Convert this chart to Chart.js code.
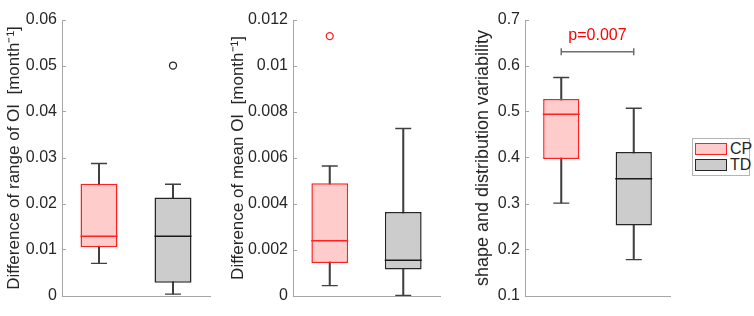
<!DOCTYPE html>
<html>
<head>
<meta charset="utf-8">
<script src="https://cdn.jsdelivr.net/npm/chart.js@4.4.1/dist/chart.umd.min.js"></script>
<style>
  body { margin: 0; background: #fff; width: 754px; height: 316px; overflow: hidden; position: relative; font-family: 'Liberation Sans', Arial, sans-serif; }
  canvas { position: absolute; top: 0; }
  .legend { position: absolute; left: 692px; top: 138px; width: 56px; height: 36px; border: 1px solid #b4b4b4; background: #fff; }
  .legend .item { position: absolute; left: 2px; height: 13px; width: 60px; }
  .legend .swatch { position: absolute; left: 0; top: 0; width: 30px; height: 10px; border-width: 1.5px; border-style: solid; }
  .legend .label { position: absolute; left: 35px; top: -3px; font-size: 16px; color: #262626; line-height: 17px; }
</style>
</head>
<body>
<canvas id="rangeChart" width="230" height="316" style="left:0px"></canvas>
<canvas id="meanChart" width="230" height="316" style="left:230px"></canvas>
<canvas id="varChart" width="230" height="316" style="left:460px"></canvas>
<div class="legend">
  <div class="item" style="top:4px"><div class="swatch" style="background:#ffcccc;border-color:#ff2020"></div><div class="label">CP</div></div>
  <div class="item" style="top:20px"><div class="swatch" style="background:#cccccc;border-color:#262626"></div><div class="label">TD</div></div>
</div>
<script>
const groups = ['CP', 'TD'];

// difference of range of OI
const rangeLow = [0.0071, 0.0004];
const rangeQ1 = [0.0106, 0.0029];
const rangeMedian = [0.0130, 0.0130];
const rangeQ3 = [0.0244, 0.0214];
const rangeHigh = [0.0288, 0.0243];
const rangeOutliers = [[], [0.0501]];
const rangeTicks = [0, 0.01, 0.02, 0.03, 0.04, 0.05, 0.06];
const rangeTickLabels = ['0', '0.01', '0.02', '0.03', '0.04', '0.05', '0.06'];

// difference of mean OI
const meanLow = [0.00045, 0.00002];
const meanQ1 = [0.00144, 0.00115];
const meanMedian = [0.0024, 0.00155];
const meanQ3 = [0.0049, 0.00365];
const meanHigh = [0.00565, 0.00728];
const meanOutliers = [[0.0113], []];
const meanTicks = [0, 0.002, 0.004, 0.006, 0.008, 0.01, 0.012];
const meanTickLabels = ['0', '0.002', '0.004', '0.006', '0.008', '0.01', '0.012'];

// shape and distribution variability
const varLow = [0.302, 0.179];
const varQ1 = [0.398, 0.253];
const varMedian = [0.495, 0.355];
const varQ3 = [0.528, 0.413];
const varHigh = [0.575, 0.508];
const varOutliers = [[], []];
const varTicks = [0.1, 0.2, 0.3, 0.4, 0.5, 0.6, 0.7];
const varTickLabels = ['0.1', '0.2', '0.3', '0.4', '0.5', '0.6', '0.7'];
const pBracketY = 0.631;
const pLabel = 'p=0.007';

const boxFill = ['#ffcccc', '#cccccc'];
const boxEdge = ['#ff2020', '#262626'];
const whiskerColor = '#404040';
const axisColor = '#a6a6a6';
const textColor = '#262626';

Chart.defaults.font.family = "'Liberation Sans', Arial, sans-serif";
Chart.defaults.color = textColor;

const pValuePlugin = {
    id: 'pValue',
    afterDatasetsDraw(chart, args, opts) {
        if (!opts.text) return;
        const ctx = chart.ctx;
        const xs = chart.scales.x, ys = chart.scales.y;
        const cx = (xs.getPixelForValue(0) + xs.getPixelForValue(1)) / 2;
        const cy = ys.getPixelForValue(opts.y);
        ctx.save();
        ctx.fillStyle = '#ff0000';
        ctx.font = "16px 'Liberation Sans', Arial, sans-serif";
        ctx.textAlign = 'center';
        ctx.textBaseline = 'alphabetic';
        ctx.fillText(opts.text, cx, cy - 12);
        ctx.restore();
    }
};

function makePanel(id, s) {
    const whiskers = groups.map((g, i) => [s.low[i], s.high[i]]);
    const boxes = groups.map((g, i) => [s.q1[i], s.q3[i]]);
    const caps = [];
    groups.forEach((g, i) => { caps.push({x: g, y: s.low[i]}); caps.push({x: g, y: s.high[i]}); });
    const medians = groups.map((g, i) => ({x: g, y: s.median[i]}));
    const outliers = [], outlierColors = [];
    groups.forEach((g, i) => s.outliers[i].forEach(v => { outliers.push({x: g, y: v}); outlierColors.push(boxEdge[i]); }));

    const datasets = [
        {type: 'bar', data: whiskers, backgroundColor: whiskerColor, barThickness: 1.4, grouped: false, order: 5},
        {type: 'bar', data: boxes, backgroundColor: boxFill, borderColor: boxEdge, borderWidth: 1.5,
         borderSkipped: false, barPercentage: 0.5, categoryPercentage: 1, grouped: false, order: 4},
        {type: 'line', data: caps, showLine: false, pointStyle: 'line', pointRadius: 8,
         pointBorderColor: whiskerColor, pointBorderWidth: 1.4, order: 3},
        {type: 'line', data: medians, showLine: false, pointStyle: 'line', pointRadius: 18.5,
         pointBorderColor: boxEdge.map(c => c === '#262626' ? '#1a1a1a' : c), pointBorderWidth: 1.5, order: 2},
        {type: 'line', data: outliers, showLine: false, pointStyle: 'circle', pointRadius: 3.5,
         pointBackgroundColor: 'rgba(0,0,0,0)', pointBorderColor: outlierColors, pointBorderWidth: 1.3, order: 1}
    ];
    if (s.bracketY !== undefined) {
        datasets.push({type: 'line', data: [{x: groups[0], y: s.bracketY}, {x: groups[1], y: s.bracketY}],
            borderColor: '#6e6e6e', borderWidth: 1.5, pointStyle: 'line', pointRotation: 90, pointRadius: 3.5,
            pointBorderColor: '#6e6e6e', pointBorderWidth: 1.5, order: 0});
    }

    return new Chart(document.getElementById(id), {
        type: 'bar',
        data: {labels: groups, datasets: datasets},
        plugins: [pValuePlugin],
        options: {
            responsive: false,
            animation: false,
            events: [],
            layout: {padding: {left: 0, top: 7, right: s.padRight, bottom: 9}},
            plugins: {
                legend: {display: false},
                tooltip: {enabled: false},
                pValue: {text: s.pText, y: s.bracketY}
            },
            scales: {
                x: {
                    type: 'category',
                    offset: true,
                    ticks: {display: false},
                    grid: {display: true, drawOnChartArea: false, drawTicks: false},
                    border: {display: true, color: axisColor, width: 1},
                    afterFit: sc => { sc.height = 0; }
                },
                y: {
                    min: s.ticks[0],
                    max: s.ticks[s.ticks.length - 1],
                    afterBuildTicks: sc => { sc.ticks = s.ticks.map(v => ({value: v})); },
                    ticks: {
                        color: textColor,
                        font: {size: 16, lineHeight: 1},
                        padding: 9,
                        callback: (v, i) => s.tickLabels[i]
                    },
                    grid: {drawOnChartArea: false, drawTicks: true, tickLength: -4, color: axisColor},
                    border: {display: true, color: axisColor, width: 1},
                    title: {
                        display: true,
                        text: s.title,
                        color: textColor,
                        font: {size: s.titleSize, lineHeight: 1},
                        padding: {top: s.titlePad, bottom: 0}
                    },
                    afterFit: sc => { sc.width = s.axisWidth; sc.paddingTop = 0; sc.paddingBottom = 0; }
                }
            }
        }
    });
}

makePanel('rangeChart', {
    low: rangeLow, q1: rangeQ1, median: rangeMedian, q3: rangeQ3, high: rangeHigh, outliers: rangeOutliers,
    ticks: rangeTicks, tickLabels: rangeTickLabels,
    title: 'Difference of range of OI  [month\u207B\u00B9]', titleSize: 17, titlePad: 6, axisWidth: 62, padRight: 18
});
makePanel('meanChart', {
    low: meanLow, q1: meanQ1, median: meanMedian, q3: meanQ3, high: meanHigh, outliers: meanOutliers,
    ticks: meanTicks, tickLabels: meanTickLabels,
    title: 'Difference of mean OI  [month\u207B\u00B9]', titleSize: 17, titlePad: 0, axisWidth: 63, padRight: 17
});
makePanel('varChart', {
    low: varLow, q1: varQ1, median: varMedian, q3: varQ3, high: varHigh, outliers: varOutliers,
    ticks: varTicks, tickLabels: varTickLabels,
    title: 'shape and distribution variability', titleSize: 18, titlePad: 14, axisWidth: 65, padRight: 16,
    bracketY: pBracketY, pText: pLabel
});
</script>
</body>
</html>
